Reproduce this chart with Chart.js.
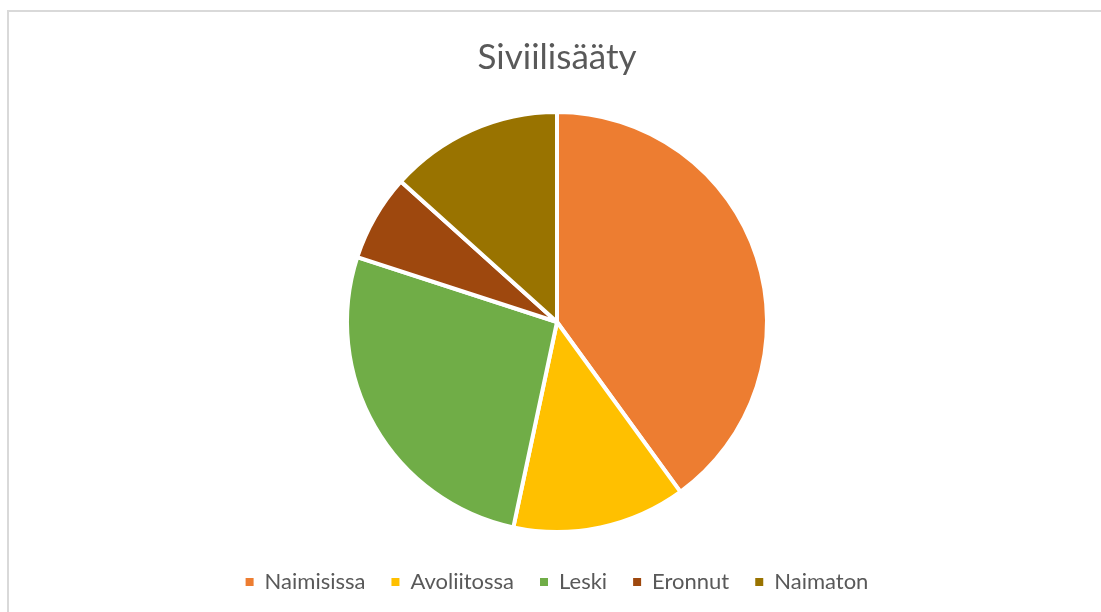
<!DOCTYPE html>
<html>
<head>
<meta charset="utf-8">
<script src="https://cdn.jsdelivr.net/npm/chart.js@4/dist/chart.umd.min.js"></script>
<style>
  html, body { margin: 0; padding: 0; background: #fff; overflow: hidden; }
  #frame {
    position: absolute; left: 7px; top: 10px;
    width: 1110px; height: 620px;
    border: 2px solid #d9d9d9; box-sizing: border-box;
  }
  #wrap {
    position: absolute; left: 9px; top: 12px;
    width: 1096px; height: 600px;
  }
</style>
</head>
<body>
<div id="frame"></div>
<div id="wrap"><canvas id="pieChart"></canvas></div>
<script>
const labels = ['Naimisissa', 'Avoliitossa', 'Leski', 'Eronnut', 'Naimaton'];
const values = [6, 2, 4, 1, 2];
const colors = ['#ED7D31', '#FFC000', '#70AD47', '#9E480E', '#997300'];

const ctx = document.getElementById('pieChart').getContext('2d');
const myChart = new Chart(ctx, {
    type: 'pie',
    data: {
        labels: labels,
        datasets: [{
            data: values,
            backgroundColor: colors,
            borderColor: '#ffffff',
            borderWidth: 4,
            radius: 210
        }]
    },
    options: {
        responsive: true,
        maintainAspectRatio: false,
        animation: false,
        layout: { padding: { bottom: 9 } },
        plugins: {
            title: {
                display: true,
                text: 'Siviilisääty',
                color: '#595959',
                font: { family: 'Lato', size: 35, weight: 'normal' },
                padding: { top: 25, bottom: 20 }
            },
            legend: {
                position: 'bottom',
                labels: {
                    color: '#595959',
                    font: { family: 'Lato', size: 22 },
                    boxWidth: 8,
                    boxHeight: 8,
                    padding: 26,
                    // plain filled squares, no white outline
                    generateLabels: chart => {
                        const items = Chart.overrides.pie.plugins.legend.labels.generateLabels(chart);
                        items.forEach(item => {
                            item.lineWidth = 0;
                            item.strokeStyle = item.fillStyle;
                        });
                        return items;
                    }
                }
            },
            tooltip: { enabled: false }
        }
    }
});
</script>
</body>
</html>
